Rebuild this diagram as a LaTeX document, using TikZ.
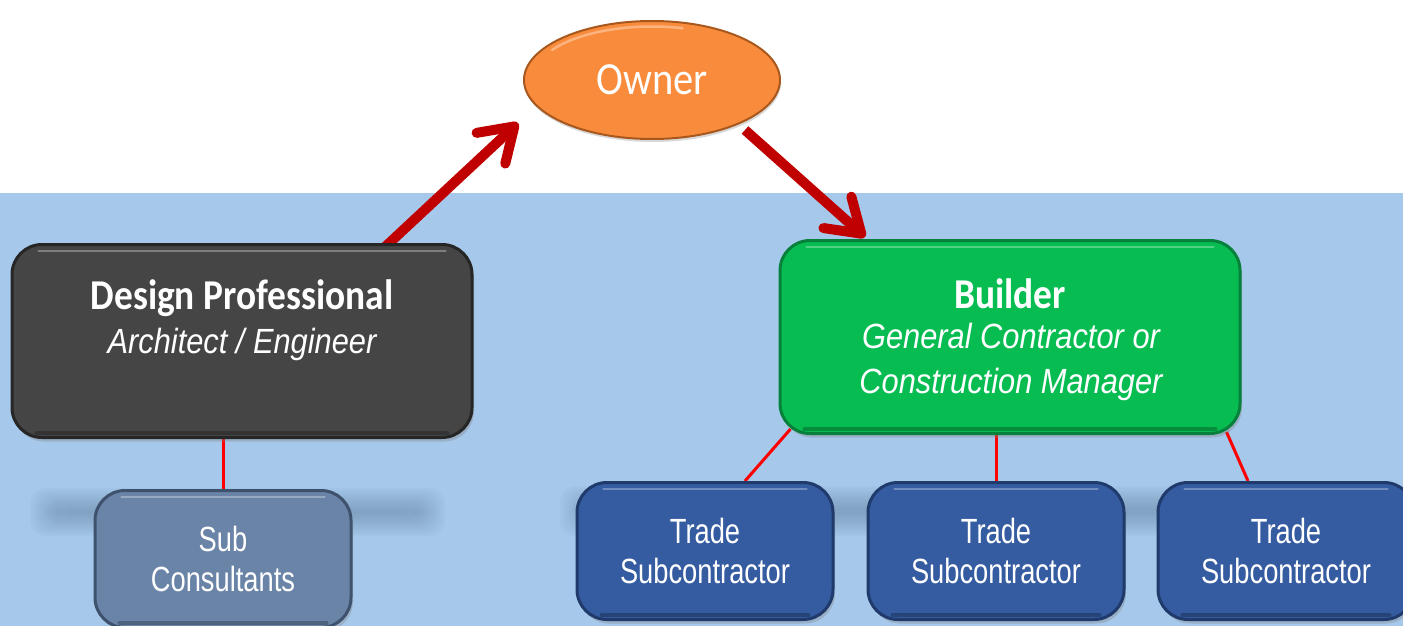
\documentclass[tikz,border=0pt]{standalone}
\usepackage{fontspec}
\setmainfont{Carlito}
\newfontfamily\calfont[FakeStretch=0.88]{Carlito}
\newfontfamily\arialit[FakeStretch=0.88]{Liberation Sans}
\newfontfamily\arialnarrow[FakeStretch=0.78]{Liberation Sans}
\usetikzlibrary{arrows.meta,shapes.geometric,shadows}
\pgfdeclarelayer{back}
\pgfdeclarelayer{mid}
\pgfsetlayers{back,mid,main}
\definecolor{bgblue}{HTML}{A6C9EB}
\definecolor{dpfill}{HTML}{454545}
\definecolor{dpedge}{HTML}{262626}
\definecolor{bfill}{HTML}{07BD52}
\definecolor{bedge}{HTML}{06803A}
\definecolor{tfill}{HTML}{355CA1}
\definecolor{tedge}{HTML}{1F3A6B}
\definecolor{sfill}{HTML}{6A84A8}
\definecolor{sedge}{HTML}{3E526E}
\definecolor{ofill}{HTML}{F98B3C}
\definecolor{oedge}{HTML}{A8581C}
\definecolor{arrred}{HTML}{C00000}
\definecolor{shadowc}{HTML}{5F7C9C}
\tikzset{
  box/.style={rounded corners=30pt, line width=3pt, minimum width=#1, align=center, text=white,
    drop shadow={opacity=0.35, shadow xshift=2pt, shadow yshift=-4pt}},
  bigbox/.style={box=460pt, minimum height=193pt},
  smallbox/.style={box=256pt, minimum height=137pt, font=\arialnarrow\fontsize{35}{40}\selectfont},
  boldtxt/.style={text=white, align=center, font=\calfont\bfseries\fontsize{42.5}{46}\selectfont},
  ittxt/.style={text=white, align=center, font=\arialit\itshape\fontsize{35}{45}\selectfont},
  bigarrow/.style={arrred, line width=10pt, -{Straight Barb[length=32pt,width=42pt,round]}},
  thinline/.style={red, line width=3pt},
  hl/.style={white, opacity=0.3, line width=2.5pt, line cap=round},
  lowrim/.style={black, opacity=0.25, line width=4pt, line cap=round},
  band/.style={fill=shadowc, opacity=0.06, rounded corners=16pt}
}
\begin{document}
\begin{tikzpicture}[x=1pt,y=-1pt]
\useasboundingbox (0,0) rectangle (1403,626);
\clip (0,0) rectangle (1403,626);
\begin{pgfonlayer}{back}
\fill[bgblue] (0,193) rectangle (1403,626);
% blurred bands
\foreach \d in {0,3,...,27}{
  \fill[band] (30+\d,488+\d*0.8) rectangle (445-\d,536-\d*0.8);
  \fill[band] (560+\d,486+\d*0.8) rectangle (1420-\d,536-\d*0.8);
}
\end{pgfonlayer}
% nodes
\node[bigbox, draw=dpedge, fill=dpfill] (dp) at (242,341) {};
\node[boldtxt] (dpt1) at (242,298) {Design Professional};
\node[ittxt] (dpt2) at (242,344) {Architect / Engineer};
\node[bigbox, draw=bedge, fill=bfill] (bld) at (1010,337) {};
\node[boldtxt] (bt1) at (1010,294) {Builder};
\node[ittxt] (bt2) at (1011,362) {General Contractor or\\Construction Manager};
\node[smallbox, draw=sedge, fill=sfill] (sub) at (223,559) {Sub\\Consultants};
\node[smallbox, draw=tedge, fill=tfill] (t1) at (705,551) {Trade\\Subcontractor};
\node[smallbox, draw=tedge, fill=tfill] (t2) at (996,551) {Trade\\Subcontractor};
\node[smallbox, draw=tedge, fill=tfill] (t3) at (1286,551) {Trade\\Subcontractor};
\node[ellipse, minimum width=256pt, minimum height=118pt, fill=ofill, draw=oedge, line width=2pt,
  text=white, font=\calfont\fontsize{46}{50}\selectfont,
  drop shadow={opacity=0.3, shadow xshift=1pt, shadow yshift=-3pt}] (owner) at (652,80) {Owner};
% highlights and rims
\foreach \n in {dp,bld,sub,t1,t2,t3}{
  \draw[hl] ([xshift=28pt,yshift=-8pt]\n.north west) -- ([xshift=-28pt,yshift=-8pt]\n.north east);
  \draw[lowrim] ([xshift=26pt,yshift=6pt]\n.south west) -- ([xshift=-26pt,yshift=6pt]\n.south east);
}
\draw[white, opacity=0.35, line width=2.5pt, line cap=round]
  ([xshift=-100pt,yshift=30pt]owner.center) arc[x radius=118pt, y radius=50pt, start angle=148, end angle=75];
% connectors behind boxes
\begin{pgfonlayer}{mid}
\draw[bigarrow] ([xshift=143pt,yshift=-4pt]dp.north) -- ([xshift=-134pt,yshift=-43pt]owner.center);
\draw[bigarrow] ([xshift=93pt,yshift=-50pt]owner.center) -- ([xshift=-145pt,yshift=2pt]bld.north);
\draw[thinline] (sub.north) -- (sub.north |- dp.south);
\draw[thinline] ([xshift=40pt]t1.north) -- ([xshift=12pt,yshift=6pt]bld.south west);
\draw[thinline] (t2.north) -- (t2.north |- bld.south);
\draw[thinline] ([xshift=-38pt]t3.north) -- ([xshift=-15pt,yshift=3pt]bld.south east);
\end{pgfonlayer}
\end{tikzpicture}
\end{document}
